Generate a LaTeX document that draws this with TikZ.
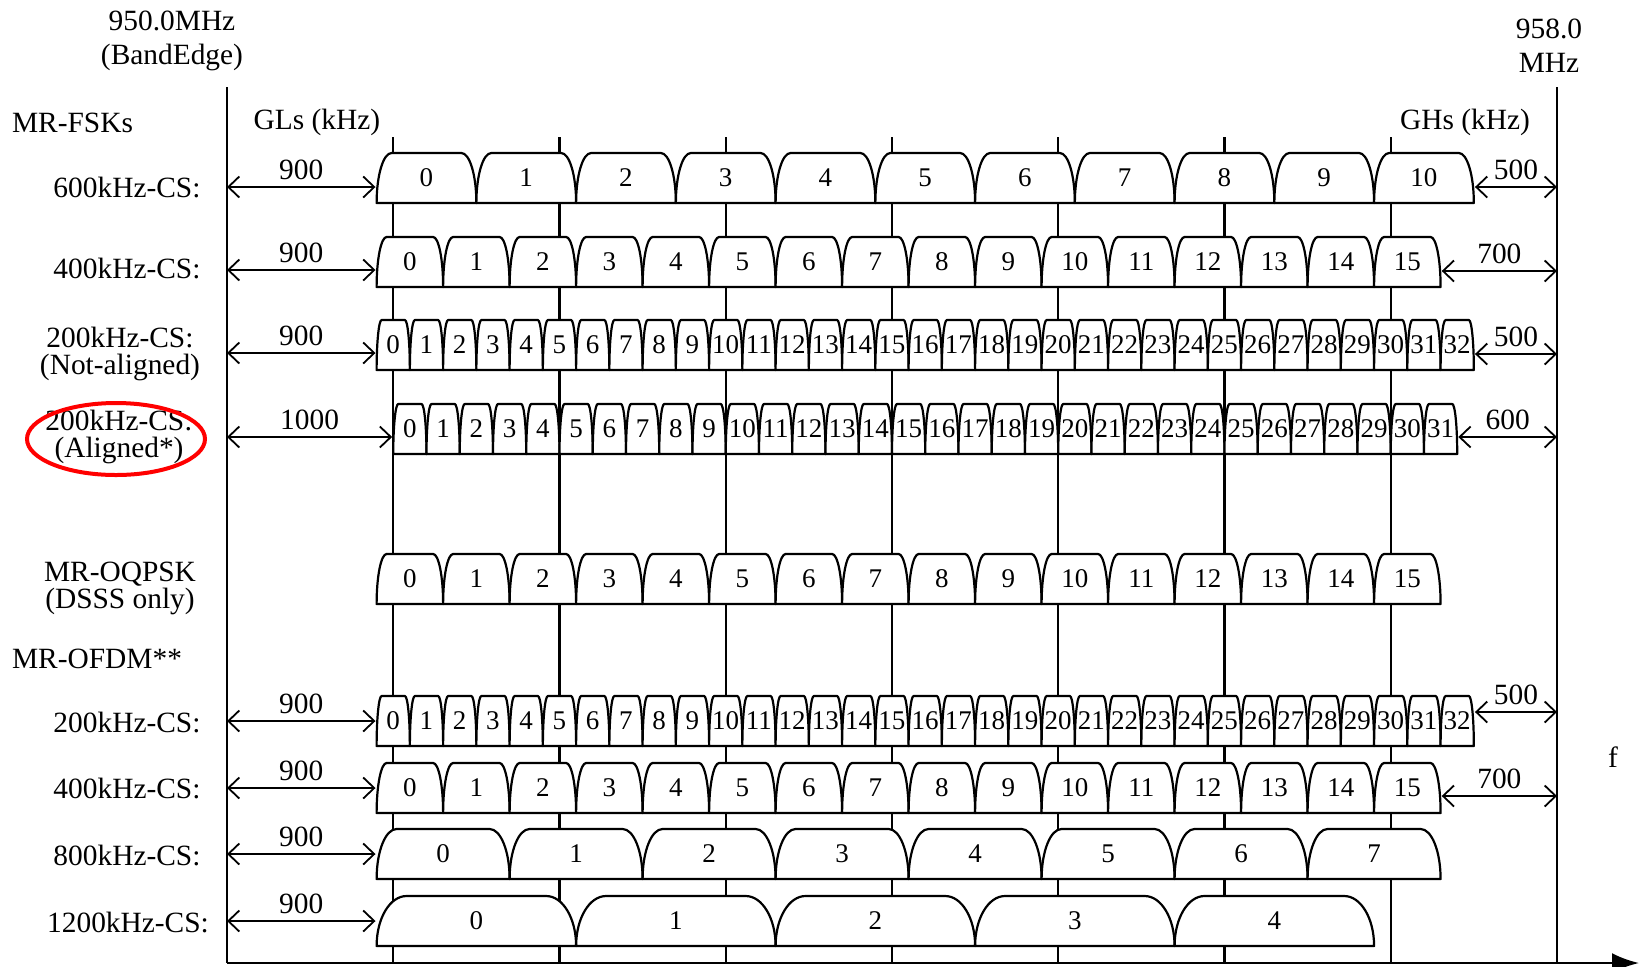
\documentclass[tikz,border=0pt]{standalone}
\usepackage{fontspec}
\setmainfont{Liberation Serif}
\usetikzlibrary{arrows.meta, shapes.geometric, positioning}

\begin{document}
\begin{tikzpicture}[
    x=0.5pt, y=-0.5pt, line width=1.1pt,
    >={Straight Barb[length=5.5pt, width=10.5pt]},
    rowtext/.style={align=center, inner sep=0pt, font=\fontsize{14.7}{13.5}\selectfont},
    headtext/.style={align=center, inner sep=0pt, font=\fontsize{14.7}{17}\selectfont},
    chline/.style={draw, fill=white, line join=round},
    chnum/.style={inner sep=0pt, minimum height=25pt, font=\fontsize{13.5}{14}\selectfont},
    guardarr/.style={<->, line width=0.9pt},
    guardnum/.style={midway, above, inner sep=3pt, font=\fontsize{14.7}{17}\selectfont},
    gridline/.style={line width=1.1pt},
    faxis/.style={-{Latex[length=13.5pt, width=10pt]}, line width=1.4pt},
    ring/.style={draw=red, ellipse, line width=2pt, minimum width=89pt, minimum height=36pt, inner sep=0pt}
]
\useasboundingbox (0,0) rectangle (1639,966);
\pgfmathsetmacro{\khz}{0.16625}

% Channel Definition
\tikzset{
    channel/.pic={
        \path[chline] (-\chw/2, 25) .. controls (-\chw/2, -3) and (-\chw/2+0.45*\chd, -25) .. (-\chw/2+\chd, -25)
            -- (\chw/2-\chd, -25) .. controls (\chw/2-0.45*\chd, -25) and (\chw/2, -3) .. (\chw/2, 25) -- cycle;
        \node[chnum, minimum width=\chwpt pt] (-box) at (0,0) {\k};
    }
}

\coordinate (BandL) at (227,87);
\coordinate (BandR) at (1557,87);
\coordinate (Origin) at (227,963);
\coordinate (AxisEnd) at (1639,963);

\draw[gridline] (BandL) -- (Origin);
\draw[gridline] (BandR) -- (BandR |- Origin);
\foreach \m in {1,...,7}
    \draw[gridline] ({227+\m*1000*\khz}, 137) -- ({227+\m*1000*\khz}, 963);
\draw[faxis] (Origin) -- (AxisEnd);

\foreach \row/\yb/\chst/\chsp/\lastch in {
    FSK600/203/900/600/10, FSK400/287/900/400/15, FSK200/370/900/200/32,
    FSK200A/454/1000/200/31, OQPSK/604/900/400/15, OFDM200/746/900/200/32,
    OFDM400/813/900/400/15, OFDM800/879/900/800/7, OFDM1200/946/900/1200/4} {
    \pgfmathsetmacro{\chw}{\chsp*\khz}
    \pgfmathsetmacro{\chd}{0.15*\chw}
    \pgfmathsetmacro{\chwpt}{0.5*\chw}
    \foreach \k in {0,...,\lastch}
        \pic (\row-\k) at ({227+(\chst+(\k+0.5)*\chsp)*\khz}, \yb-25) {channel};
}

\foreach \row/\ya/\gl in {FSK600/187/900, FSK400/270/900, FSK200/353/900, FSK200A/437/1000,
    OFDM200/721/900, OFDM400/788/900, OFDM800/854/900, OFDM1200/921/900} {
    \coordinate (\row-GL) at (227,\ya);
    \draw[guardarr] (\row-GL) -- (\row-0-box.west |- \row-GL) node[guardnum] {\gl};
}

\foreach \row/\ya/\lastch/\gh in {FSK600/187/10/500, FSK400/271/15/700, FSK200/354/32/500,
    FSK200A/437/31/600, OFDM200/712/32/500, OFDM400/796/15/700} {
    \coordinate (\row-GH) at (1557,\ya);
    \draw[guardarr] (\row-\lastch-box.east |- \row-GH) -- (\row-GH) node[guardnum] {\gh};
}

\node[headtext] (EdgeLow) at (172,41) {950.0MHz\\(BandEdge)};
\node[headtext] (EdgeHigh) at (1549,46) {958.0\\MHz};
\node[headtext] (GLs) at (317,122) {GLs (kHz)};
\node[headtext] (GHs) at (1465,122) {GHs (kHz)};
\node[headtext] (Freq) at (1613,757) {f};

\node[rowtext, anchor=west] (FSKTitle) at (11,123) {MR-FSKs};
\node[rowtext] (L600) at (127,187) {600kHz-CS:};
\node[rowtext] (L400) at (127,268) {400kHz-CS:};
\node[rowtext] (L200) at (120,354) {200kHz-CS:\\(Not-aligned)};
\node[rowtext] (L200A) at (119,437) {200kHz-CS:\\(Aligned*)};
\node[rowtext] (LOQPSK) at (120,588) {MR-OQPSK\\(DSSS only)};
\node[rowtext, anchor=west] (OFDMTitle) at (11,659) {MR-OFDM**};
\node[rowtext] (LO200) at (127,722) {200kHz-CS:};
\node[rowtext] (LO400) at (127,788) {400kHz-CS:};
\node[rowtext] (LO800) at (127,855) {800kHz-CS:};
\node[rowtext] (LO1200) at (128,922) {1200kHz-CS:};

\node[ring] (Ring) at (116,439) {};

\end{tikzpicture}
\end{document}
